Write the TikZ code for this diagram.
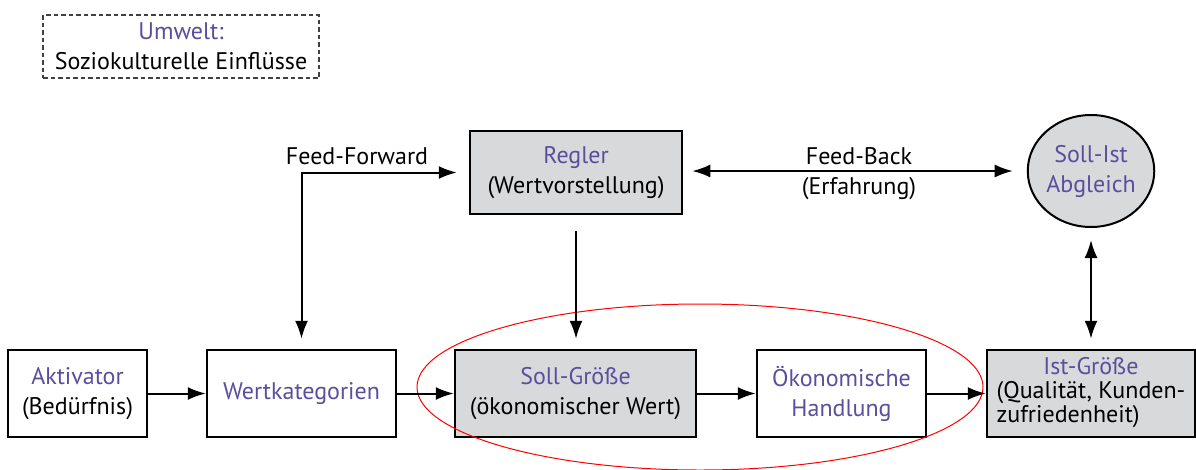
\documentclass[tikz,border=0pt]{standalone}
\usepackage{fontspec}
\setmainfont{PT Sans}
\usetikzlibrary{arrows.meta,shapes.geometric}
\definecolor{lila}{RGB}{90,78,158}
\definecolor{boxgray}{RGB}{216,217,219}
\begin{document}
\begin{tikzpicture}[x=1pt,y=-1pt,
  font=\fontsize{24}{30}\selectfont,
  box/.style={draw=black, line width=2.5pt, minimum height=87pt, inner sep=0pt, align=center},
  grau/.style={fill=boxgray},
  arr/.style={line width=2pt, -{Latex[length=18pt,width=13pt]}},
  darr/.style={line width=2pt, {Latex[length=18pt,width=13pt]}-{Latex[length=18pt,width=13pt]}},
  lbl/.style={inner sep=0pt}]
\useasboundingbox (0,0) rectangle (1196,469);

% environment note
\node[draw=black!75, dash pattern=on 4.5pt off 3pt, line width=1.3pt,
      minimum width=276pt, minimum height=63pt, inner sep=0pt, align=center]
  (umwelt) at (181,46.5) {\textcolor{lila}{Umwelt:}\\Soziokulturelle Einflüsse};

% controller and comparison
\node[box, grau, minimum width=212pt, minimum height=83pt] (regler) at (576,172.5)
  {\textcolor{lila}{Regler}\\(Wertvorstellung)};
\node[ellipse, draw=black, line width=2pt, fill=boxgray, minimum width=120pt,
      minimum height=112pt, inner sep=0pt, align=center, text=lila]
  (abgleich) at (1091,171) {Soll-Ist\\Abgleich};

% lower chain
\node[box, minimum width=139pt] (akt) at (77.5,393.5)
  {\textcolor{lila}{Aktivator}\\(Bedürfnis)};
\node[box, minimum width=189pt, text=lila] (wert) at (301.5,393.5) {Wertkategorien};
\node[box, grau, minimum width=241pt] (soll) at (575.5,393.5)
  {\textcolor{lila}{Soll-Größe}\\(ökonomischer Wert)};
\node[box, minimum width=169pt, text=lila] (oek) at (841.5,393.5)
  {Ökonomische\\Handlung};
\node[box, grau, minimum width=208pt] (ist) at (1091,393.5)
  {\raisebox{4pt}{\fontsize{24}{24}\selectfont
   \begin{tabular}{@{}l@{}}\multicolumn{1}{@{}c@{}}{\textcolor{lila}{Ist-Größe}}\\
   (Qualität, Kunden-\\zufriedenheit)\end{tabular}}};

% highlighted region
\node[ellipse, draw=red, line width=1pt, minimum width=566pt, minimum height=166pt,
      inner sep=0pt] (fokus) at (700,387) {};

% flow arrows
\draw[arr] (akt.east) -- (wert.west);
\draw[arr] (wert.east) -- (soll.west);
\draw[arr] (soll.east) -- (oek.west);
\draw[arr] (oek.east) -- (ist.west);

% feed-forward
\draw[darr, shorten <=10pt, shorten >=12pt] (wert.north) |- (regler.west);
\node[lbl] (ff) at (357,156) {Feed-Forward};

% controller to target value
\draw[arr, shorten <=16pt, shorten >=10pt] (regler.south) -- (regler.south |- soll.north);

% feed-back
\draw[darr, shorten <=9pt, shorten >=14pt] (regler.east |- abgleich.west) -- (abgleich.west);
\node[lbl] (fb) at (859,156) {Feed-Back};
\node[lbl] (fberf) at (859,189) {(Erfahrung)};

% comparison to actual value
\draw[darr, shorten <=12pt, shorten >=10pt] (abgleich.south) -- (abgleich.south |- ist.north);
\end{tikzpicture}
\end{document}
